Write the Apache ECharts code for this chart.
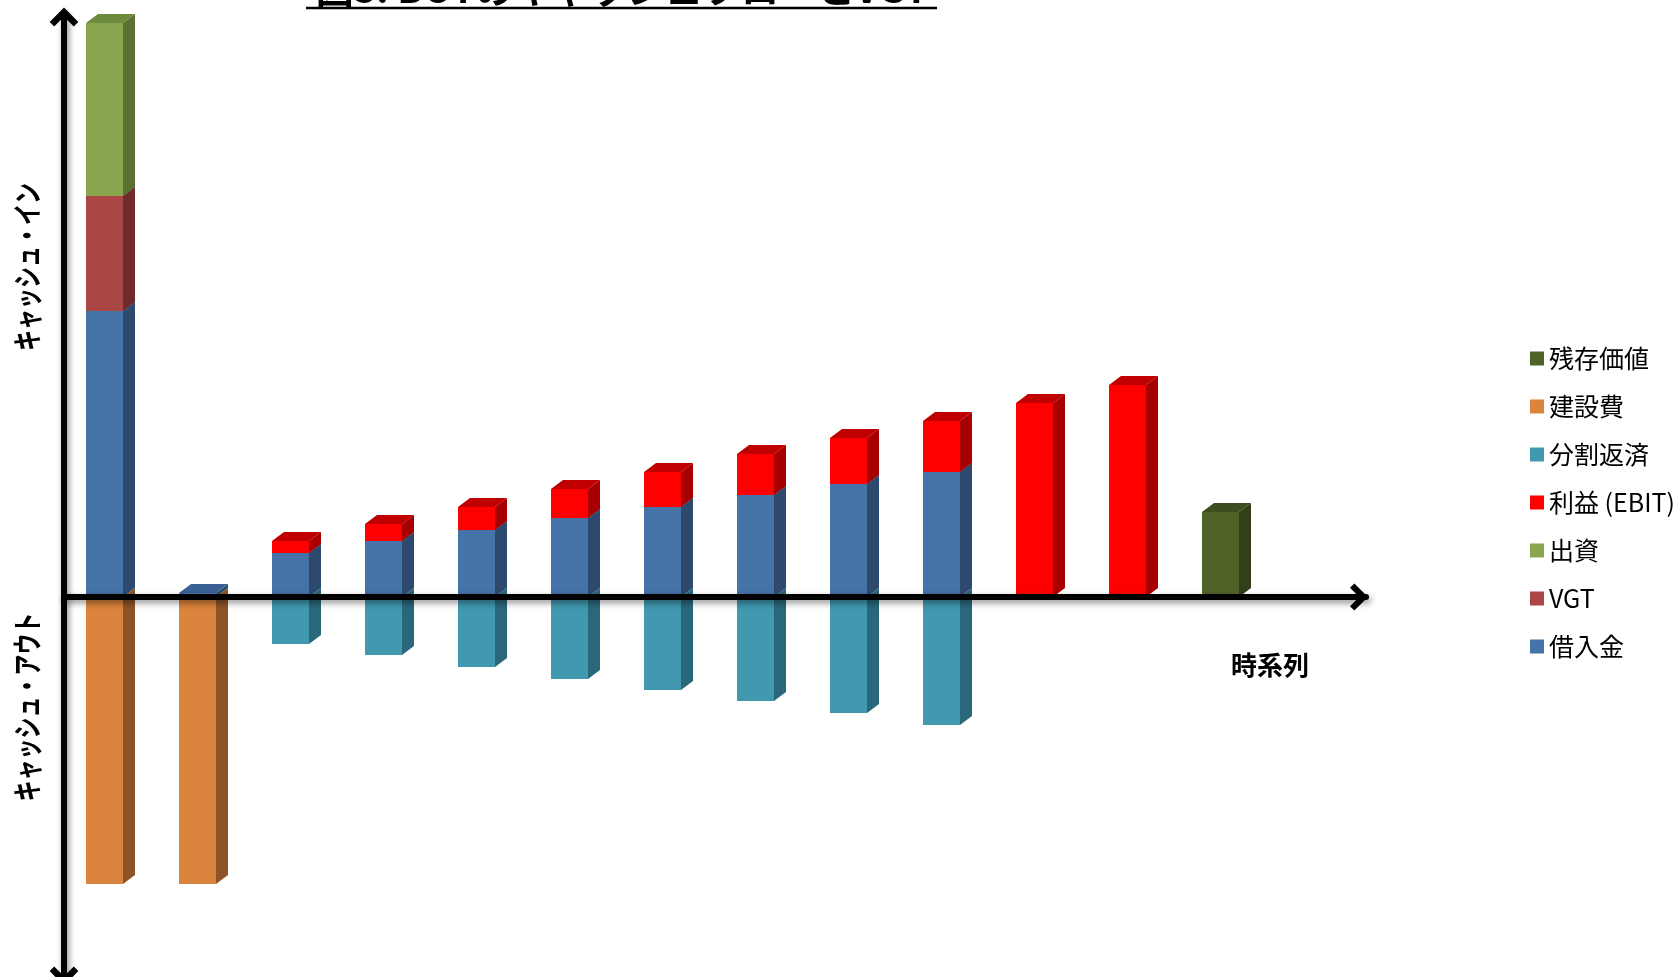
<!DOCTYPE html>
<html><head><meta charset="utf-8">
<script src="https://cdn.jsdelivr.net/npm/echarts@6/dist/echarts.min.js"></script>
<style>html,body{margin:0;padding:0;background:#fff}#c{width:1674px;height:977px}</style>
</head><body><div id="c"></div>
<script>
// ---- data ----
const categories = ['1','2','3','4','5','6','7','8','9','10','11','12','13','14'];
const loan         = [286, 4, 44, 56, 67, 79, 90, 102, 113, 125, 0, 0, 0, 0];  // 借入金
const vgt          = [115, 0, 0, 0, 0, 0, 0, 0, 0, 0, 0, 0, 0, 0];            // VGT
const equity       = [173, 0, 0, 0, 0, 0, 0, 0, 0, 0, 0, 0, 0, 0];            // 出資
const ebit         = [0, 0, 12, 17, 23, 29, 35, 41, 46, 51, 194, 212, 0, 0];  // 利益 (EBIT)
const residual     = [0, 0, 0, 0, 0, 0, 0, 0, 0, 0, 0, 0, 85, 0];             // 残存価値
const construction = [-287, -287, 0, 0, 0, 0, 0, 0, 0, 0, 0, 0, 0, 0];        // 建設費
const repayment    = [0, 0, -47, -58, -70, -82, -93, -104, -116, -128, 0, 0, 0, 0]; // 分割返済
const legendOrder  = ['残存価値','建設費','分割返済','利益 (EBIT)','出資','VGT','借入金'];

// ---- styles ----
const seriesDefs = [
  {name:'借入金', vals:loan, front:'#4572A7', side:'#2D4A6E', top:'#3A6194'},
  {name:'VGT', vals:vgt, front:'#AA4643', side:'#6E2B2A', top:'#8E3A38'},
  {name:'出資', vals:equity, front:'#89A54E', side:'#5B7132', top:'#6E8A3D'},
  {name:'利益 (EBIT)', vals:ebit, front:'#FF0000', side:'#A80000', top:'#C00000'},
  {name:'残存価値', vals:residual, front:'#4F6228', side:'#323F19', top:'#3E4D1F'},
  {name:'建設費', vals:construction, front:'#DB843D', side:'#8E5428', top:'#B86F33'},
  {name:'分割返済', vals:repayment, front:'#4198AF', side:'#28687A', top:'#357F93'}
];

const posBase = categories.map(()=>0), negBase = categories.map(()=>0);
const FONT = '"Noto Sans CJK JP","Noto Sans",sans-serif';
const BAR_W = 37, DEPTH_X = 12, DEPTH_Y = 9;

const series = seriesDefs.map(def => {
  const data = def.vals.map((v, i) => {
    let lo, hi;
    if (v >= 0) { lo = posBase[i]; hi = lo + v; posBase[i] = hi; }
    else { hi = negBase[i]; lo = hi + v; negBase[i] = lo; }
    return [i, lo, hi, v];
  });
  return {
    type: 'custom', name: def.name, data: data,
    itemStyle: {color: def.front},
    encode: {x: 0, y: [1, 2]},
    renderItem: function (params, api) {
      const v = api.value(3);
      if (!v) return null;
      const i = api.value(0);
      const pLo = api.coord([i, api.value(1)]);
      const pHi = api.coord([i, api.value(2)]);
      const cx = pLo[0];
      const x0 = cx - (BAR_W + DEPTH_X) / 2, x1 = x0 + BAR_W;
      const yTop = Math.min(pLo[1], pHi[1]), yBot = Math.max(pLo[1], pHi[1]);
      const children = [
        {type:'polygon', shape:{points:[[x1,yBot],[x1,yTop],[x1+DEPTH_X,yTop-DEPTH_Y],[x1+DEPTH_X,yBot-DEPTH_Y]]}, style:{fill:def.side}},
        {type:'rect', shape:{x:x0, y:yTop, width:BAR_W, height:yBot-yTop}, style:{fill:def.front}}
      ];
      if (v > 0) {
        children.push({type:'polygon', shape:{points:[[x0,yTop],[x1,yTop],[x1+DEPTH_X,yTop-DEPTH_Y],[x0+DEPTH_X,yTop-DEPTH_Y]]}, style:{fill:def.top}});
      }
      return {type:'group', children: children};
    }
  };
});

const chevron = 'path://M14,0 L28,14 L23.5,18.5 L14,9 L4.5,18.5 L0,14 Z';
const axisLineStyle = {color:'#000', width:6, shadowBlur:6, shadowColor:'rgba(0,0,0,0.45)', shadowOffsetX:2, shadowOffsetY:3};

const chart = echarts.init(document.getElementById('c'), null, {renderer:'canvas'});
chart.setOption({
  animation: false,
  backgroundColor: '#fff',
  grid: {left:64, top:13, width:1302, height:961, containLabel:false},
  xAxis: {
    type:'category', data:categories, z:10,
    axisLine:{onZero:true, symbol:['none', chevron], symbolSize:[28,18], symbolOffset:[0,-7], lineStyle:axisLineStyle},
    axisTick:{show:false}, axisLabel:{show:false}, splitLine:{show:false}
  },
  yAxis: {
    type:'value', min:-377, max:584, z:10,
    axisLine:{show:true, symbol:[chevron, chevron], symbolSize:[30,19], symbolOffset:[-2,-4], lineStyle:axisLineStyle},
    axisTick:{show:false}, axisLabel:{show:false}, splitLine:{show:false}
  },
  legend: {
    data: legendOrder, orient:'vertical', left:1525, top:341,
    itemWidth:14, itemHeight:14, itemGap:23, icon:'rect',
    textStyle:{fontFamily:FONT, fontSize:25, color:'#000'}
  },
  graphic: [
    {type:'text', x:622, y:8, style:{text:'図3: BOTのキャッシュフローとVGT', font:'bold 38px '+FONT, fill:'#000', textAlign:'center', textVerticalAlign:'bottom'}},
    {type:'line', shape:{x1:306, y1:8, x2:937, y2:8}, style:{stroke:'#000', lineWidth:2.5}},
    {type:'text', x:27, y:267, rotation:Math.PI/2, scaleX:0.7, style:{text:'キャッシュ・イン', font:'bold 30px '+FONT, fill:'#000', textAlign:'center', textVerticalAlign:'middle'}},
    {type:'text', x:27, y:707, rotation:Math.PI/2, scaleX:0.7, style:{text:'キャッシュ・アウト', font:'bold 30px '+FONT, fill:'#000', textAlign:'center', textVerticalAlign:'middle'}},
    {type:'text', x:1270, y:665, style:{text:'時系列', font:'bold 26px '+FONT, fill:'#000', textAlign:'center', textVerticalAlign:'middle'}}
  ],
  series: series
});
</script>
</body></html>
